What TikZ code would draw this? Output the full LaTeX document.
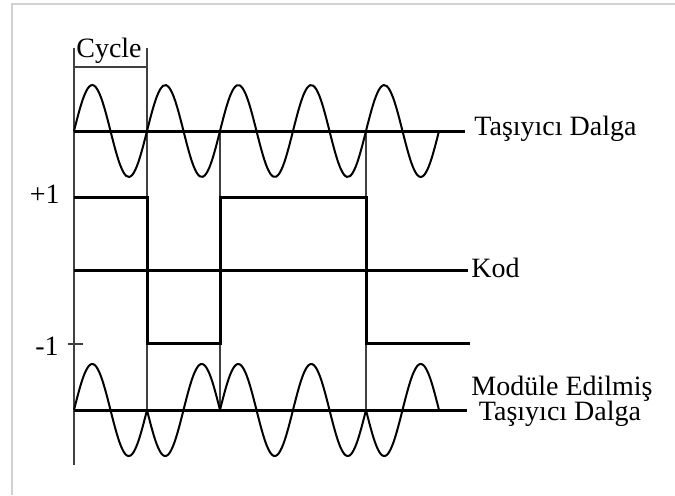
\documentclass[tikz,border=0pt]{standalone}
\usepackage{fontspec}
\setmainfont{Liberation Serif}
\usetikzlibrary{
	positioning
}

\begin{document}
\begin{tikzpicture}[
			x=0.5pt, y=-0.5pt,
			font=\fontsize{14}{15}\selectfont,
			axis/.style={line width=1.5pt},
			wave/.style={line width=1pt, smooth, samples=120},
			guide/.style={line width=0.6pt, black!75},
			frame/.style={line width=0.6pt, black!18},
			lbl/.style={inner sep=0pt, anchor=base west}
			]
			
			\useasboundingbox (0,0) rectangle (675,495);
			\draw[frame] (12,495) -- (12,4) -- (675,4);
			
			% guides and cycle bracket
			\draw[guide] (74,48) -- (74,465);
			\draw[guide] (147,48) -- (147,410);
			\draw[guide] (74,67) -- (147,67);
			\draw[guide] (220,131) -- (220,410);
			\draw[guide] (366,131) -- (366,410);
			\draw[guide] (68,344) -- (83,344);
			
			\node[inner sep=0pt, anchor=base] (cyc) at (109,57) {Cycle};
			
			% carrier
			\draw[axis] (74,131) -- (465,131);
			\draw[wave] plot[domain=0:365] ({\x+74},{131-46*sin(4.93151*\x)});
			\node[lbl] (tasiyici) at (474,135) {Taşıyıcı Dalga};
			
			% code
			\node[inner sep=0pt, anchor=base east] (plus) at (60,203) {+1};
			\node[inner sep=0pt, anchor=base east] (minus) at (59,355) {-1};
			\draw[axis] (74,270) -- (468,270);
			\draw[axis] (74,197) -- (147,197) -- (147,343) -- (220,343)
			-- (220,197) -- (366,197) -- (366,343) -- (470,343);
			\node[lbl] (kod) at (471,277) {Kod};
			
			% modulated carrier
			\draw[axis] (74,410) -- (467,410);
			\foreach \a/\b/\s in {0/73/1, 73/146/-1, 146/292/1, 292/365/-1}
			\draw[wave] plot[domain=\a:\b] ({\x+74},{410-\s*46*sin(4.93151*\x)});
			\node[inner sep=0pt, anchor=base] (mod) at (562,395) {Modüle Edilmiş};
			\node[inner sep=0pt, anchor=base] (mod2) at (560,420) {Taşıyıcı Dalga};
			
		\end{tikzpicture}
\end{document}
